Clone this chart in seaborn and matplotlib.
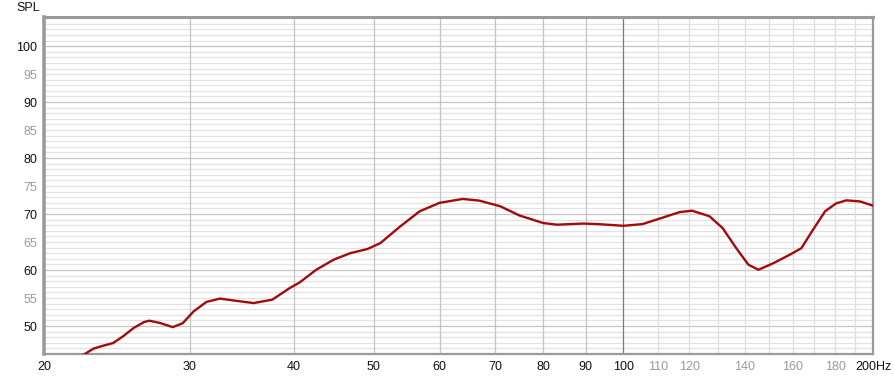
import numpy as np
import pandas as pd
import matplotlib
matplotlib.use("Agg")
import matplotlib.pyplot as plt
import seaborn as sns

# ---- data ----
freq_hz = [21.6, 22.4, 22.94, 23.6, 24.24, 24.9, 25.65, 26.4, 26.8, 27.6, 28.6, 29.4,
           30.3, 31.4, 32.6, 34.1, 35.8, 37.7, 39.6, 40.7, 42.6, 44.7, 46.8, 49.1,
           50.9, 53.8, 56.8, 60.0, 64.0, 67.0, 71.0, 74.9, 80.0, 83.1, 89.4, 93.3,
           100.0, 105.4, 111.2, 116.9, 121.0, 127.0, 131.7, 136.8, 141.5, 145.5,
           151.8, 159.3, 163.9, 169.3, 175.1, 180.5, 185.8, 192.9, 200.0]
spl_db = [44.0, 45.0, 45.95, 46.5, 46.96, 48.14, 49.64, 50.7, 50.95, 50.54, 49.8, 50.5,
          52.6, 54.3, 54.9, 54.5, 54.1, 54.7, 56.8, 57.8, 60.05, 61.84, 63.0, 63.75,
          64.8, 67.8, 70.5, 72.0, 72.7, 72.4, 71.4, 69.75, 68.4, 68.1, 68.3, 68.2,
          67.9, 68.2, 69.3, 70.35, 70.6, 69.6, 67.5, 63.9, 60.95, 60.05,
          61.25, 62.86, 63.9, 67.2, 70.5, 71.9, 72.45, 72.25, 71.5]

y_ticks = [50, 55, 60, 65, 70, 75, 80, 85, 90, 95, 100]
x_ticks = [20, 30, 40, 50, 60, 70, 80, 90, 100, 110, 120, 140, 160, 180, 200]
x_labels = ["20", "30", "40", "50", "60", "70", "80", "90", "100",
            "110", "120", "140", "160", "180", "200Hz"]

df = pd.DataFrame({"freq": freq_hz, "spl": spl_db})

sns.set_theme(style="white")
plt.rcParams["font.family"] = ["Liberation Sans", "DejaVu Sans"]

W, H = 894, 379
fig = plt.figure(figsize=(W / 100, H / 100), dpi=100)
ax = fig.add_axes([44 / W, (H - 354) / H, (873 - 44) / W, (354 - 17) / H])
ax.set_facecolor("white")

ax.set_xscale("log")
ax.set_xlim(20, 200)
ax.set_ylim(45, 105.2)

# grid lines
for v in range(46, 106):
    col = "#c4c4c4" if v % 10 == 0 else "#e2e2e2"
    ax.axhline(v, color=col, lw=0.9, zorder=0)
for f in range(30, 200, 10):
    if f == 100:
        col = "#7a7a7a"
    elif f < 100:
        col = "#c4c4c4"
    else:
        col = "#dedede"
    ax.axvline(f, color=col, lw=0.9, zorder=0)

sns.lineplot(data=df, x="freq", y="spl", ax=ax, color="#a30b0b", lw=1.7,
             zorder=3, sort=False)
for ln in ax.get_lines():
    ln.set_solid_joinstyle("round")
    ln.set_solid_capstyle("round")

ax.set_xticks(x_ticks)
ax.set_xticklabels(x_labels)
ax.xaxis.set_minor_locator(matplotlib.ticker.NullLocator())
ax.set_yticks(y_ticks)
ax.set_yticklabels([str(v) for v in y_ticks])
ax.tick_params(axis="both", length=0, labelsize=9)
ax.tick_params(axis="y", pad=5)
ax.tick_params(axis="x", pad=5)
for lab, v in zip(ax.get_yticklabels(), y_ticks):
    lab.set_color("#111111" if v % 10 == 0 else "#9a9a9a")
for lab, v in zip(ax.get_xticklabels(), x_ticks):
    lab.set_color("#9a9a9a" if 100 < v < 200 else "#111111")

ax.set_xlabel("")
ax.set_ylabel("")

for side, s in ax.spines.items():
    s.set_visible(True)
    s.set_color("#9a9a9a")
ax.spines["left"].set_linewidth(2.6)
ax.spines["top"].set_linewidth(2.2)
ax.spines["right"].set_linewidth(1.6)
ax.spines["bottom"].set_linewidth(1.6)

fig.text(28 / W, 1 - 8 / H, "SPL", ha="center", va="center", fontsize=9,
         color="#111111")

fig.savefig("out.png", dpi=100, facecolor="white")
